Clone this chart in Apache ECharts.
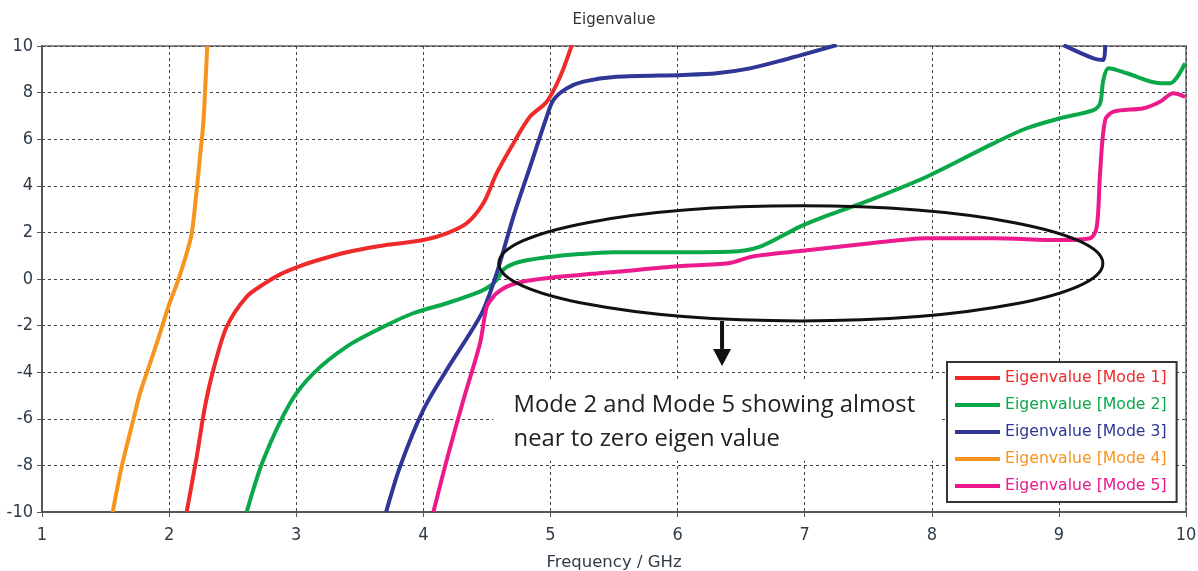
<!DOCTYPE html>
<html>
<head>
<meta charset="utf-8">
<script src="https://cdn.jsdelivr.net/npm/echarts@6/dist/echarts.min.js"></script>
<style>
html,body{margin:0;padding:0;background:#fff;}
#chart{width:1198px;height:571px;}
</style>
</head>
<body>
<div id="chart"></div>
<script>
// ---- Data ----
const seriesNames = ['Eigenvalue [Mode 1]','Eigenvalue [Mode 2]','Eigenvalue [Mode 3]','Eigenvalue [Mode 4]','Eigenvalue [Mode 5]'];
const xTicks = [1,2,3,4,5,6,7,8,9,10];
const yTicks = [-10,-8,-6,-4,-2,0,2,4,6,8,10];

const mode1Freq = [2.138, 2.217, 2.282, 2.348, 2.453, 2.61, 2.75, 2.873, 3.004, 3.135, 3.397, 3.66, 4.0, 4.184, 4.341, 4.472, 4.577, 4.708, 4.84, 4.971, 5.076, 5.168];
const mode1Val  = [-10, -7.63, -5.48, -3.9, -2.05, -0.76, -0.2, 0.2, 0.5, 0.75, 1.15, 1.42, 1.67, 1.96, 2.39, 3.25, 4.54, 5.82, 6.97, 7.61, 8.68, 10.04];

const mode2Freq = [2.61, 2.741, 2.951, 3.135, 3.397, 3.66, 3.92, 4.184, 4.446, 4.525, 4.577, 4.64, 4.76, 4.97, 5.23, 5.49, 6.0, 6.41, 6.65, 6.96, 7.226, 7.514, 7.96, 8.485, 8.747, 9.01, 9.272, 9.324, 9.35, 9.39, 9.534, 9.796, 9.875, 9.993];
const mode2Val  = [-10, -7.77, -5.33, -4.05, -2.9, -2.12, -1.47, -1.04, -0.54, -0.3, -0.04, 0.45, 0.74, 0.93, 1.07, 1.15, 1.15, 1.17, 1.39, 2.24, 2.82, 3.39, 4.39, 5.82, 6.47, 6.9, 7.25, 7.54, 8.54, 9.04, 8.83, 8.4, 8.4, 9.26];

const mode3Freq = [3.707, 3.817, 4.0, 4.184, 4.367, 4.472, 4.577, 4.708, 4.84, 4.971, 5.023, 5.128, 5.259, 5.521, 6.046, 6.308, 6.57, 6.833, 7.252, 8.0, 9.036, 9.272, 9.35, 9.364];
const mode3Val  = [-10, -8.05, -5.62, -3.9, -2.33, -1.33, 0.24, 2.67, 4.82, 6.97, 7.68, 8.18, 8.47, 8.68, 8.76, 8.83, 9.04, 9.4, 10.04, null, 10.04, 9.47, 9.4, 10.04];

const mode4Freq = [1.556, 1.627, 1.718, 1.771, 1.85, 1.928, 1.994, 2.072, 2.138, 2.178, 2.217, 2.243, 2.269, 2.282, 2.30];
const mode4Val  = [-10, -8.05, -6.05, -4.9, -3.62, -2.33, -1.19, -0.04, 1.1, 1.96, 3.82, 5.25, 6.68, 7.97, 10];

const mode5Freq = [4.079, 4.184, 4.315, 4.446, 4.499, 4.551, 4.577, 4.656, 4.787, 4.971, 5.364, 5.521, 6.0, 6.4, 6.6, 7.0, 7.5, 7.96, 8.485, 9.01, 9.246, 9.298, 9.324, 9.364, 9.43, 9.666, 9.796, 9.9, 9.993];
const mode5Val  = [-10, -7.77, -5.19, -2.76, -1.19, -0.76, -0.61, -0.33, -0.11, 0.03, 0.24, 0.31, 0.55, 0.68, 0.98, 1.22, 1.52, 1.75, 1.75, 1.67, 1.75, 2.24, 4.54, 6.82, 7.18, 7.33, 7.61, 7.97, 7.82];

const colors = ['#EE2A2A', '#0BA84A', '#2E3796', '#F7941D', '#EC1A8C'];

// Annotation text
const noteLines = ['Mode 2 and Mode 5 showing almost', 'near to zero eigen value'];

// ---- Build ----
function zip(xs, ys){ return xs.map((x,i)=> [x, ys[i] === null ? '-' : ys[i]]); }
const allData = [zip(mode1Freq,mode1Val), zip(mode2Freq,mode2Val), zip(mode3Freq,mode3Val), zip(mode4Freq,mode4Val), zip(mode5Freq,mode5Val)];

const axisColor = '#2f3b48';
const chart = echarts.init(document.getElementById('chart'), null, {renderer:'canvas'});

const option = {
  animation: false,
  backgroundColor: '#fff',
  title: {
    text: 'Eigenvalue', left: 609, top: 8, textAlign: 'center',
    textStyle: {fontSize: 15, fontWeight: 'normal', color: '#333', fontFamily: 'DejaVu Sans'}
  },
  grid: {left: 42, right: 12, top: 46, bottom: 59, containLabel: false, outerBoundsMode: 'none',
         show: true, borderColor: '#666', borderWidth: 1.5},
  legend: {
    orient: 'vertical', left: 947, top: 362,
    padding: [7, 10, 7, 8], itemGap: 9, itemWidth: 45, itemHeight: 4, icon: 'rect',
    borderColor: '#333', borderWidth: 2, backgroundColor: '#fff', borderRadius: 0,
    textStyle: {fontSize: 15.7, lineHeight: 18, fontFamily: 'DejaVu Sans'},
    data: seriesNames.map((n,i)=>({name: n, textStyle: {color: colors[i]}}))
  },
  xAxis: {
    type: 'value', min: xTicks[0], max: xTicks[xTicks.length-1], interval: 1,
    name: 'Frequency / GHz', nameLocation: 'middle', nameGap: 42,
    nameTextStyle: {fontSize: 16.5, color: axisColor, fontFamily: 'DejaVu Sans'},
    axisLine: {onZero: false, lineStyle: {color: '#555', width: 2}},
    axisTick: {show: true, length: 5, lineStyle: {color: '#555'}},
    axisLabel: {fontSize: 18, color: axisColor, margin: 14, fontFamily: 'DejaVu Sans Condensed, DejaVu Sans'},
    splitLine: {show: true, lineStyle: {color: '#444', type: [3,3], width: 1}}
  },
  yAxis: {
    type: 'value', min: yTicks[0], max: yTicks[yTicks.length-1], interval: 2,
    axisLine: {show: true, onZero: false, lineStyle: {color: '#555', width: 2}},
    axisTick: {show: true, length: 5, lineStyle: {color: '#555'}},
    axisLabel: {fontSize: 18, color: axisColor, margin: 9, fontFamily: 'DejaVu Sans Condensed, DejaVu Sans'},
    splitLine: {show: true, lineStyle: {color: '#444', type: [3,3], width: 1}}
  },
  series: allData.map((d,i)=>({
    name: seriesNames[i], type: 'line', data: d,
    showSymbol: false, symbol: 'none',
    smooth: 0.3, connectNulls: false,
    clip: true,
    lineStyle: {width: 4, color: colors[i]},
    itemStyle: {color: colors[i]}
  }))
};
chart.setOption(option);

// Annotation graphics, positioned through the chart's own coordinate conversion
function px(x,y){ return chart.convertToPixel({gridIndex:0}, [x,y]); }
const ellC = px(6.97, 0.67);
const ellR = px(6.97 + 2.376, 0.67 - 2.47);
const rx = ellR[0]-ellC[0], ry = ellR[1]-ellC[1];
const arrTop = px(6.35, 0.67 - 2.47);
const arrHead = px(6.35, -3.0);
const arrTip = px(6.35, -3.73);
const boxA = px(4.55, -4.3);
const boxB = px(8.07, -7.8);
const txt1 = px(4.71, -5.43);
const txt2 = px(4.71, -6.87);

chart.setOption({
  graphic: [
    {type:'rect', z: 50, shape:{x: boxA[0], y: boxA[1], width: boxB[0]-boxA[0], height: boxB[1]-boxA[1]}, style:{fill:'#fff'}},
    {type:'text', z: 51, x: txt1[0], y: txt1[1], style:{text: noteLines[0], fill:'#222', font:'23.8px "Open Sans"', textVerticalAlign:'middle'}},
    {type:'text', z: 51, x: txt2[0], y: txt2[1], style:{text: noteLines[1], fill:'#222', font:'23.8px "Open Sans"', textVerticalAlign:'middle'}},
    {type:'ellipse', z: 60, shape:{cx: ellC[0], cy: ellC[1], rx: rx, ry: ry}, style:{fill: 'none', stroke:'#111', lineWidth: 3}},
    {type:'line', z: 60, shape:{x1: arrTop[0], y1: arrTop[1], x2: arrHead[0], y2: arrHead[1]}, style:{stroke:'#111', lineWidth: 4}},
    {type:'polygon', z: 60, shape:{points: [[arrHead[0]-9, arrHead[1]], [arrHead[0]+9, arrHead[1]], [arrTip[0], arrTip[1]]]}, style:{fill:'#111'}}
  ]
});
</script>
</body>
</html>
